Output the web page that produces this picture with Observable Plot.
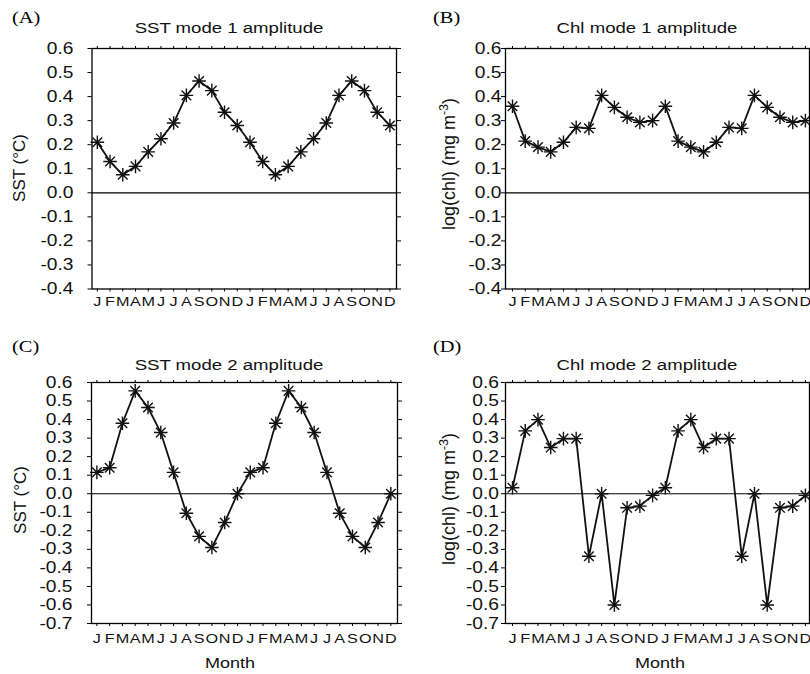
<!DOCTYPE html>
<html>
<head>
<meta charset="utf-8">
<script src="https://cdn.jsdelivr.net/npm/d3@7"></script>
<script src="https://cdn.jsdelivr.net/npm/@observablehq/plot@0.6"></script>
<style>
  html, body { margin: 0; padding: 0; background: #fff; }
  #chart { position: relative; width: 810px; height: 674px; overflow: hidden; background: #fff; }
  #chart > svg { position: absolute; overflow: visible; }
</style>
</head>
<body>
<div id="chart"></div>
<script>
// ---- data (one seasonal cycle, plotted twice as in the original figure) ----
const months = ["J","F","M","A","M","J","J","A","S","O","N","D"];
const sstMode1 = [0.21, 0.13, 0.075, 0.11, 0.17, 0.225, 0.29, 0.405, 0.465, 0.425, 0.335, 0.28];
const chlMode1 = [0.36, 0.215, 0.19, 0.17, 0.21, 0.272, 0.268, 0.405, 0.355, 0.314, 0.293, 0.30];
const sstMode2 = [0.115, 0.14, 0.38, 0.555, 0.465, 0.33, 0.115, -0.105, -0.23, -0.29, -0.155, 0.0];
const chlMode2 = [0.032, 0.339, 0.40, 0.249, 0.297, 0.297, -0.337, 0.0, -0.60, -0.076, -0.067, -0.009];
const yTicksTop = [-0.4,-0.3,-0.2,-0.1,0,0.1,0.2,0.3,0.4,0.5,0.6];
const yTicksBottom = [-0.7,-0.6,-0.5,-0.4,-0.3,-0.2,-0.1,0,0.1,0.2,0.3,0.4,0.5,0.6];
const panelLetters = ["(A)","(B)","(C)","(D)"];
const titles = ["SST mode 1 amplitude","Chl mode 1 amplitude","SST mode 2 amplitude","Chl mode 2 amplitude"];

const twoYears = (vals) => vals.concat(vals).map((v, i) => ({i, v}));

// 8-armed asterisk marker
const star8 = {
  draw(ctx, size) {
    const r = Math.sqrt(size / Math.PI);
    const d = r * Math.SQRT1_2;
    ctx.moveTo(-r, 0); ctx.lineTo(r, 0);
    ctx.moveTo(0, -r); ctx.lineTo(0, r);
    ctx.moveTo(-d, -d); ctx.lineTo(d, d);
    ctx.moveTo(-d, d); ctx.lineTo(d, -d);
  }
};

const FONT = "'Liberation Sans', Arial, Helvetica, sans-serif";
const SERIF = "'Liberation Serif', 'Times New Roman', serif";
const SX = 1.2; // horizontal glyph stretch of the original figure
const chart = document.getElementById("chart");

// read a text element's anchor position as placed by Plot, then re-place it
// with an extra horizontal offset and a horizontal glyph stretch
function restyleText(el, sx, offX) {
  let tx = 0, ty = 0;
  const t = el.getAttribute("transform") || "";
  const m = t.match(/translate\(\s*([-\d.e]+)[ ,]+([-\d.e]+)\s*\)/);
  if (m) { tx = +m[1]; ty = +m[2]; }
  const xa = el.getAttribute("x"), ya = el.getAttribute("y");
  if (xa !== null && /^-?[\d.]+$/.test(xa.trim())) { tx += +xa; el.removeAttribute("x"); }
  if (ya !== null && /^-?[\d.]+$/.test(ya.trim())) { ty += +ya; el.removeAttribute("y"); }
  const dxa = el.getAttribute("dx");
  if (dxa !== null && /^-?[\d.]+$/.test(dxa.trim())) { el.removeAttribute("dx"); }
  el.setAttribute("transform", `translate(${tx + offX},${ty}) scale(${sx},1)`);
}

function panel(cfg) {
  const data = twoYears(cfg.values);
  const svg = Plot.plot({
    width: cfg.w, height: cfg.h,
    marginLeft: cfg.ml, marginRight: cfg.mr, marginTop: cfg.mt, marginBottom: cfg.mb,
    style: {fontFamily: FONT, fontSize: "16px", color: "black", background: "transparent", overflow: "visible"},
    x: {type: "linear", domain: cfg.xdom},
    y: {domain: cfg.ydom},
    marks: [
      Plot.axisY({anchor: "left", ticks: cfg.yticks, tickFormat: () => "", tickSize: 4, label: null, strokeWidth: 1}),
      Plot.text(cfg.yticks, {x: cfg.xdom[0], y: d => d, text: d => d.toFixed(1), textAnchor: "end", fontSize: 16, fill: "#111"}),
      Plot.axisY({anchor: "right", ticks: cfg.yticks, tickFormat: () => "", tickSize: 4, label: null, strokeWidth: 1}),
      Plot.axisX({anchor: "bottom", ticks: d3.range(24), tickFormat: i => months[i % 12], tickSize: 3, tickPadding: cfg.xpad, label: null, fontSize: 13.5, strokeWidth: 1, fill: "#111"}),
      Plot.axisX({anchor: "top", ticks: d3.range(24), tickFormat: () => "", tickSize: 3, label: null, strokeWidth: 1}),
      Plot.ruleY([0], {stroke: "black", strokeWidth: 1.2}),
      Plot.line(data, {x: "i", y: "v", stroke: "#111", strokeWidth: 1.8}),
      Plot.dot(data, {x: "i", y: "v", symbol: star8, r: 6.8, fill: "none", stroke: "#111", strokeWidth: 1.4}),
      Plot.frame({stroke: "black", strokeWidth: 1.3})
    ]
  });
  svg.style.left = cfg.left + "px";
  svg.style.top = cfg.top + "px";
  const s = d3.select(svg);
  // y tick labels (text mark): shift left of the frame and stretch
  s.selectAll('g[aria-label="text"] text').each(function() { restyleText(this, SX, cfg.ydx); });
  // month tick labels: stretch only
  s.selectAll('g[aria-label="x-axis tick label"] text').each(function() { restyleText(this, SX, 0); });
  // panel letter
  s.append("text").attr("transform", `translate(${cfg.letterX},${cfg.letterY}) scale(${SX},1)`)
    .attr("text-anchor", "start")
    .attr("font-family", SERIF).attr("font-size", 17).attr("fill", "black").text(cfg.letter);
  // title
  s.append("text").attr("transform", `translate(${cfg.titleX},${cfg.titleY}) scale(${SX},1)`).attr("text-anchor", "middle")
    .attr("font-family", FONT).attr("font-size", 15.5).attr("fill", "#111").text(cfg.title);
  // y label
  const yl = s.append("text")
    .attr("transform", `translate(${cfg.ylabX},${cfg.ylabY}) rotate(-90)`)
    .attr("text-anchor", "middle").attr("font-family", FONT).attr("fill", "#111");
  if (cfg.chl) {
    yl.attr("font-size", 18);
    yl.append("tspan").text("log(chl) (mg m");
    yl.append("tspan").attr("font-size", 12.5).attr("dy", -7.5).text("-3");
    yl.append("tspan").attr("dy", 7.5).text(")");
  } else {
    yl.attr("font-size", 17).text("SST (°C)");
  }
  if (cfg.month) {
    s.append("text").attr("transform", `translate(${cfg.monthX},${cfg.monthY}) scale(${SX},1)`).attr("text-anchor", "middle")
      .attr("font-family", FONT).attr("font-size", 15).attr("fill", "#111").text("Month");
  }
  chart.appendChild(svg);
}

// A
panel({values: sstMode1, left: 0, top: 0, w: 405, h: 330, ml: 91.5, mr: 9, mt: 48, mb: 41.5,
  xdom: [-0.42, 23.52], ydom: [-0.4, 0.6], yticks: yTicksTop, ydx: -18.5, xpad: 4,
  letter: panelLetters[0], letterX: 12, letterY: 23, title: titles[0], titleX: 229, titleY: 33,
  ylabX: 25, ylabY: 168, chl: false});
// B
panel({values: chlMode1, left: 405, top: 0, w: 405, h: 330, ml: 100, mr: 1, mt: 48, mb: 41.5,
  xdom: [-0.55, 23.32], ydom: [-0.4, 0.6], yticks: yTicksTop, ydx: -4, xpad: 4,
  letter: panelLetters[1], letterX: 28, letterY: 23, title: titles[1], titleX: 242, titleY: 33,
  ylabX: 50, ylabY: 164, chl: true});
// C
panel({values: sstMode2, left: 0, top: 330, w: 405, h: 344, ml: 91, mr: 8, mt: 52, mb: 51,
  xdom: [-0.42, 23.52], ydom: [-0.7, 0.6], yticks: yTicksBottom, ydx: -19, xpad: 7,
  letter: panelLetters[2], letterX: 12, letterY: 22, title: titles[2], titleX: 229, titleY: 40,
  ylabX: 26, ylabY: 170, chl: false, month: true, monthX: 230, monthY: 338});
// D
panel({values: chlMode2, left: 405, top: 330, w: 405, h: 344, ml: 100, mr: 1, mt: 52, mb: 51,
  xdom: [-0.55, 23.32], ydom: [-0.7, 0.6], yticks: yTicksBottom, ydx: -6.5, xpad: 7,
  letter: panelLetters[3], letterX: 28, letterY: 22, title: titles[3], titleX: 242, titleY: 40,
  ylabX: 50, ylabY: 169, chl: true, month: true, monthX: 255, monthY: 338});
</script>
</body>
</html>
